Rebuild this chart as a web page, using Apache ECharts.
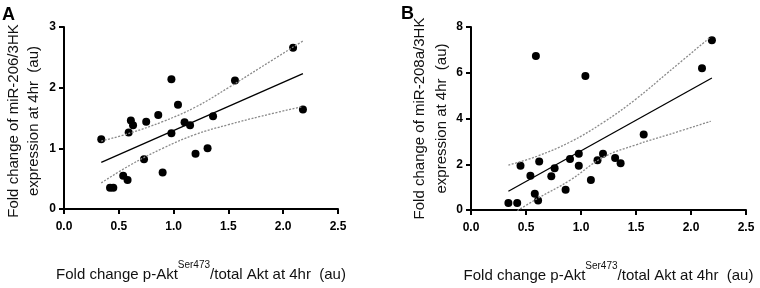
<!DOCTYPE html>
<html>
<head>
<meta charset="utf-8">
<script src="https://cdn.jsdelivr.net/npm/echarts@6/dist/echarts.min.js"></script>
<style>
  html, body { margin: 0; padding: 0; background: #fff; }
  #chart { width: 760px; height: 288px; }
</style>
</head>
<body>
<div id="chart"></div>
<script>
// panel A: miR-206
const aX = [0.34, 0.42, 0.45, 0.54, 0.58, 0.59, 0.61, 0.63, 0.73, 0.75, 0.86, 0.90, 0.98, 0.98, 1.04, 1.10, 1.15, 1.20, 1.31, 1.36, 1.56, 2.09, 2.18]
const aY = [1.15, 0.35, 0.35, 0.55, 0.48, 1.26, 1.46, 1.38, 0.82, 1.44, 1.55, 0.60, 2.14, 1.25, 1.72, 1.43, 1.38, 0.91, 1.00, 1.53, 2.12, 2.66, 1.64]
const fitAX = [0.34, 2.18]
const fitAY = [0.77, 2.23]
const ciAX = [0.34, 0.6, 0.9, 1.2, 1.5, 1.8, 2.18]
const ciAUp = [1.12, 1.25, 1.44, 1.68, 2.0, 2.34, 2.77]
const ciALow = [0.43, 0.72, 1.0, 1.23, 1.39, 1.53, 1.69]

// panel B: miR-208a
const bX = [0.34, 0.42, 0.45, 0.54, 0.58, 0.59, 0.61, 0.62, 0.73, 0.76, 0.86, 0.90, 0.98, 0.98, 1.04, 1.09, 1.15, 1.20, 1.31, 1.36, 1.57, 2.10, 2.19]
const bY = [0.31, 0.31, 1.93, 1.50, 0.71, 6.73, 0.41, 2.12, 1.47, 1.82, 0.89, 2.23, 2.46, 1.93, 5.86, 1.31, 2.17, 2.46, 2.27, 2.04, 3.30, 6.20, 7.42]
const fitBX = [0.34, 2.19]
const fitBY = [0.82, 5.77]
const ciBX = [0.34, 0.6, 0.9, 1.2, 1.5, 1.8, 2.18]
const ciBUp = [1.96, 2.35, 2.97, 3.82, 4.85, 6.05, 7.57]
const ciBLow = [-0.27, 0.49, 1.3, 2.3, 2.85, 3.3, 3.88]

const xTicks = [0, 2.5, 0.5]
const font = 'Liberation Sans, Arial, sans-serif'

const pairs = (xs, ys) => xs.map((x, i) => [x, ys[i]])

const myChart = echarts.init(document.getElementById('chart'))

function xAxisFor (idx) {
  return {
    gridIndex: idx,
    type: 'value',
    min: xTicks[0],
    max: xTicks[1],
    interval: xTicks[2],
    splitLine: { show: false },
    axisLine: { lineStyle: { color: '#000', width: 2 } },
    axisTick: { length: 5, lineStyle: { color: '#000', width: 2 } },
    axisLabel: {
      color: '#000', fontSize: 12, fontWeight: 'bold', fontFamily: font, margin: 12,
      formatter: v => v.toFixed(1)
    },
    name: '{m|Fold change p-Akt}{sup|Ser473}{m|/total Akt at 4hr  (au)}',
    nameLocation: 'middle',
    nameGap: 51,
    nameTextStyle: {
      color: '#111',
      fontFamily: font,
      rich: {
        m: { fontSize: 15, fontFamily: font, color: '#111', lineHeight: 22, verticalAlign: 'bottom' },
        sup: { fontSize: 10, fontFamily: font, color: '#111', lineHeight: 10, verticalAlign: 'top' }
      }
    }
  }
}

function yAxisFor (idx, max, interval, name, gap, lh, pad) {
  return {
    gridIndex: idx,
    type: 'value',
    min: 0,
    max: max,
    interval: interval,
    splitLine: { show: false },
    axisLine: { show: true, lineStyle: { color: '#000', width: 2 } },
    axisTick: { show: true, length: 5, lineStyle: { color: '#000', width: 2 } },
    axisLabel: { color: '#000', fontSize: 12, fontWeight: 'bold', fontFamily: font, margin: 8 },
    name: name,
    nameLocation: 'middle',
    nameGap: gap,
    nameTextStyle: { color: '#111', fontSize: 15, fontFamily: font, lineHeight: lh, padding: [0, pad, 0, 0] }
  }
}

const dotted = { color: '#8a8a8a', width: 1.3, type: [2, 1.5] }
const dot = { color: '#000', opacity: 1 }

myChart.setOption({
  animation: false,
  backgroundColor: '#fff',
  grid: [
    { left: 64, top: 27, width: 274, height: 182, outerBoundsMode: 'none' },
    { left: 471, top: 27, width: 275, height: 183, outerBoundsMode: 'none' }
  ],
  graphic: [
    { type: 'text', left: 2, top: 6, style: { text: 'A', font: 'bold 18px ' + font, fill: '#000' } },
    { type: 'text', left: 401, top: 5, style: { text: 'B', font: 'bold 18px ' + font, fill: '#000' } }
  ],
  xAxis: [xAxisFor(0), xAxisFor(1)],
  yAxis: [
    yAxisFor(0, 3, 1, 'Fold change of miR-206/3HK\nexpression at 4hr  (au)', 20, 20, 6),
    yAxisFor(1, 8, 2, 'Fold change of miR-208a/3HK\nexpression at 4hr  (au)', 16, 22, 0)
  ],
  series: [
    { type: 'line', xAxisIndex: 0, yAxisIndex: 0, data: pairs(ciAX, ciAUp), smooth: 0.4, symbol: 'none', lineStyle: dotted },
    { type: 'line', xAxisIndex: 0, yAxisIndex: 0, data: pairs(ciAX, ciALow), smooth: 0.4, symbol: 'none', lineStyle: dotted },
    { type: 'line', xAxisIndex: 0, yAxisIndex: 0, data: pairs(fitAX, fitAY), symbol: 'none', lineStyle: { color: '#000', width: 1.3 } },
    { type: 'scatter', xAxisIndex: 0, yAxisIndex: 0, data: pairs(aX, aY), symbolSize: 8, itemStyle: dot },

    { type: 'line', xAxisIndex: 1, yAxisIndex: 1, data: pairs(ciBX, ciBUp), smooth: 0.4, symbol: 'none', lineStyle: dotted },
    { type: 'line', xAxisIndex: 1, yAxisIndex: 1, data: pairs(ciBX, ciBLow), smooth: 0.4, symbol: 'none', lineStyle: dotted },
    { type: 'line', xAxisIndex: 1, yAxisIndex: 1, data: pairs(fitBX, fitBY), symbol: 'none', lineStyle: { color: '#000', width: 1.3 } },
    { type: 'scatter', xAxisIndex: 1, yAxisIndex: 1, data: pairs(bX, bY), symbolSize: 8, itemStyle: dot }
  ]
})
</script>
</body>
</html>
